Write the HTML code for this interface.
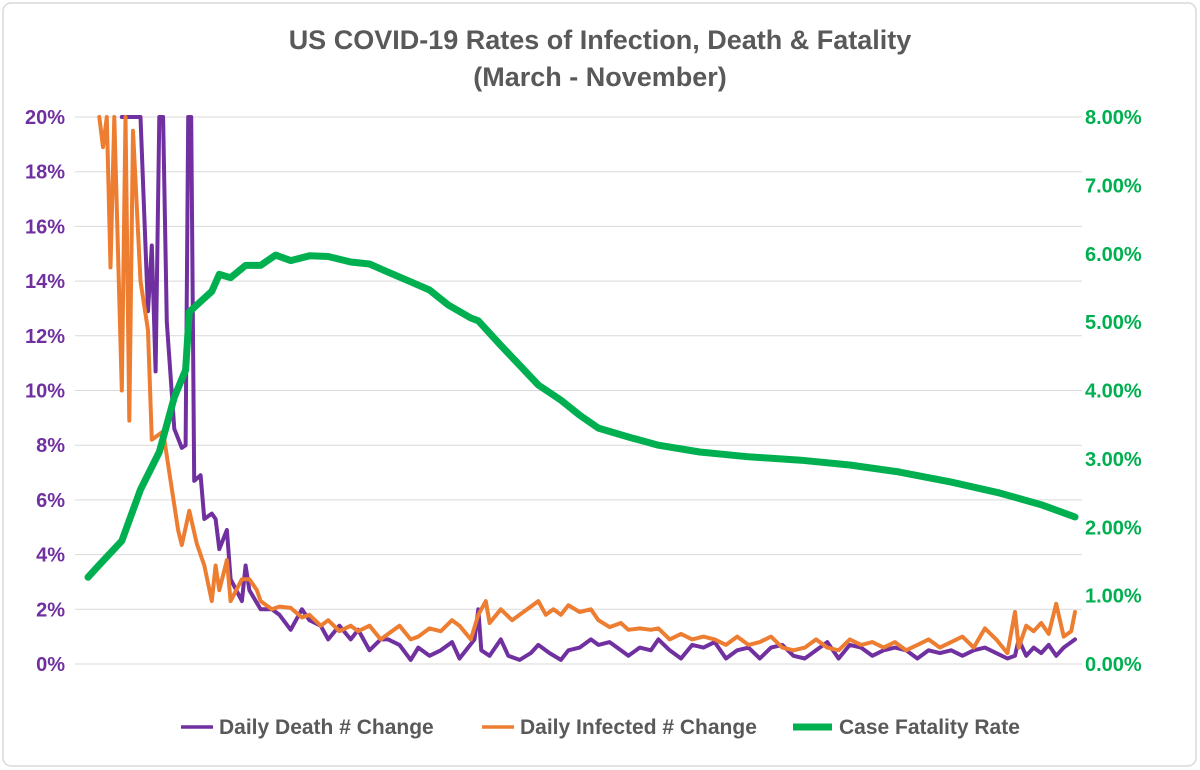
<!DOCTYPE html>
<html><head><meta charset="utf-8"><style>
body{margin:0;background:#fff;}
svg{display:block;font-family:"Liberation Sans",sans-serif;}
</style></head><body>
<svg width="1200" height="770">
<rect x="3" y="3" width="1193" height="763" rx="8" fill="#fff" stroke="#d9d9d9" stroke-width="1.5"/>
<text x="600" y="49" text-anchor="middle" font-size="27" font-weight="bold" fill="#595959">US COVID-19 Rates of Infection, Death &amp; Fatality</text>
<text x="600" y="86" text-anchor="middle" font-size="27" font-weight="bold" fill="#595959">(March - November)</text>
<g id="grid"></g><g id="ly"></g><g id="ry"></g>
<defs><clipPath id="pc"><rect x="80" y="115" width="1010" height="560"/></clipPath></defs>
<g id="series" clip-path="url(#pc)"></g>
<g>
<line x1="181" y1="727" x2="213" y2="727" stroke="#7030A0" stroke-width="3.5"/>
<text x="219" y="734" font-size="21" font-weight="bold" fill="#595959">Daily Death # Change</text>
<line x1="482" y1="727" x2="514" y2="727" stroke="#ED7D31" stroke-width="3.5"/>
<text x="520" y="734" font-size="21" font-weight="bold" fill="#595959">Daily Infected # Change</text>
<line x1="793" y1="727" x2="832" y2="727" stroke="#00B050" stroke-width="7"/>
<text x="839" y="734" font-size="21" font-weight="bold" fill="#595959">Case Fatality Rate</text>
</g>
</svg>
<script>
const leftTicks=["0%","2%","4%","6%","8%","10%","12%","14%","16%","18%","20%"];
const rightTicks=["0.00%","1.00%","2.00%","3.00%","4.00%","5.00%","6.00%","7.00%","8.00%"];
const orangeDays=[3,4,5,6,7,9,10,11,12,14,16,17,19,20,22,24,25,27,29,31,33,34,35,37,38,41,43,45,46,49,51,54,57,59,62,64,67,70,72,75,78,80,83,86,88,91,94,97,99,102,104,106,107,110,113,115,118,120,122,124,126,128,131,134,136,139,142,144,147,150,152,155,158,161,164,167,170,173,176,179,182,185,188,191,194,197,200,203,206,209,212,215,218,221,224,227,230,233,236,239,242,245,247,248,250,252,254,256,258,260,262,263];
const orangeVals=[20,18.9,20,14.5,20,10,20,8.9,19.5,14,12.2,8.2,8.4,8.5,6.7,4.9,4.35,5.6,4.4,3.6,2.3,3.6,2.7,3.8,2.3,3.1,3.1,2.7,2.3,2.0,2.1,2.05,1.7,1.8,1.4,1.6,1.2,1.4,1.2,1.4,0.9,1.1,1.4,0.9,1.0,1.3,1.2,1.6,1.4,0.9,1.8,2.3,1.5,2.0,1.6,1.8,2.1,2.3,1.8,2.0,1.8,2.15,1.9,2.0,1.6,1.35,1.5,1.25,1.3,1.25,1.3,0.9,1.1,0.9,1.0,0.9,0.7,1.0,0.7,0.8,1.0,0.6,0.5,0.6,0.9,0.6,0.5,0.9,0.7,0.8,0.6,0.8,0.5,0.7,0.9,0.6,0.8,1.0,0.6,1.3,0.9,0.4,1.9,0.6,1.4,1.2,1.5,1.1,2.2,1.0,1.2,1.9];
const purpleDays=[9,14,16,17,18,19,20,21,23,25,26,26.7,27.5,28.3,30,31,33,34,35,37,38,41,42,43,46,49,51,54,57,59,62,64,67,70,72,75,78,80,83,86,88,91,94,97,99,103,104,104.8,107,110,112,115,118,120,123,126,128,131,134,136,139,142,144,147,150,152,155,158,161,164,167,170,173,176,179,182,185,188,191,194,197,200,203,206,209,212,215,218,221,224,227,230,233,236,239,242,245,247,248,250,252,254,256,258,260,263];
const purpleVals=[20,20,12.9,15.3,10.7,20,20,12.5,8.6,7.9,8.0,20,20,6.7,6.9,5.3,5.5,5.3,4.2,4.9,3.1,2.3,3.6,2.7,2.0,2.0,1.8,1.25,2.0,1.6,1.4,0.9,1.4,0.9,1.25,0.5,0.9,0.9,0.7,0.15,0.6,0.3,0.5,0.8,0.2,0.9,2.0,0.5,0.3,0.9,0.3,0.15,0.4,0.7,0.4,0.15,0.5,0.6,0.9,0.7,0.8,0.5,0.3,0.6,0.5,0.9,0.5,0.2,0.7,0.6,0.8,0.2,0.5,0.6,0.2,0.6,0.7,0.3,0.2,0.5,0.8,0.2,0.7,0.6,0.3,0.5,0.6,0.5,0.2,0.5,0.4,0.5,0.3,0.5,0.6,0.4,0.2,0.3,0.9,0.3,0.6,0.4,0.7,0.3,0.6,0.9];
const greenDays=[0,3,9,14,19,23,26,27,30,33,35,38,42,46,50,54,59,64,70,75,80,86,91,96,102,104,110,115,120,126,131,136,144,152,163,176,190,203,216,230,243,254,263];
const greenVals=[1.27,1.45,1.8,2.55,3.1,3.9,4.3,5.15,5.3,5.45,5.7,5.65,5.83,5.83,5.98,5.9,5.97,5.96,5.88,5.85,5.73,5.59,5.47,5.25,5.06,5.02,4.66,4.37,4.08,3.86,3.64,3.45,3.32,3.2,3.1,3.03,2.98,2.91,2.81,2.66,2.5,2.33,2.15];
const NS="http://www.w3.org/2000/svg";
const X=d=>88+d*(987/263);
const YL=v=>664-v*27.35;
const YR=v=>664-v*68.375;
function mk(t,a,p){const e=document.createElementNS(NS,t);for(const k in a)e.setAttribute(k,a[k]);document.getElementById(p).appendChild(e);return e;}
leftTicks.forEach((t,i)=>{const y=664-i*54.7;
 const g=mk('line',{x1:75,x2:1082,y1:y,y2:y,stroke:'#d9d9d9','stroke-width':1},'grid');
 
 
 const tx=mk('text',{x:65,y:y+7,'text-anchor':'end','font-size':20,'font-weight':'bold',fill:'#7030A0'},'ly');
 tx.textContent=t;
 
 
});
rightTicks.forEach((t,i)=>{const y=YR(i);
 const tx=mk('text',{x:1085,y:y+7,'font-size':20,'font-weight':'bold',fill:'#00B050'},'ry');
 tx.textContent=t;
 
 
});
function line(days,vals,yf,col,w,name){
 const n=Math.min(days.length,vals.length);
 let d='';
 for(let i=0;i<n;i++) d+=(i?'L':'M')+X(days[i]).toFixed(1)+','+yf(Math.min(vals[i],22)).toFixed(1);
 const p=mk('path',{d:d,fill:'none',stroke:col,'stroke-width':w,'stroke-linejoin':'round','stroke-linecap':'round'},'series');
 
 
}
line(purpleDays,purpleVals,YL,'#7030A0',4,'death-change-line');
line(orangeDays,orangeVals,YL,'#ED7D31',4,'infected-change-line');
line(greenDays,greenVals,YR,'#00B050',7,'case-fatality-line');
</script>
</body></html>
